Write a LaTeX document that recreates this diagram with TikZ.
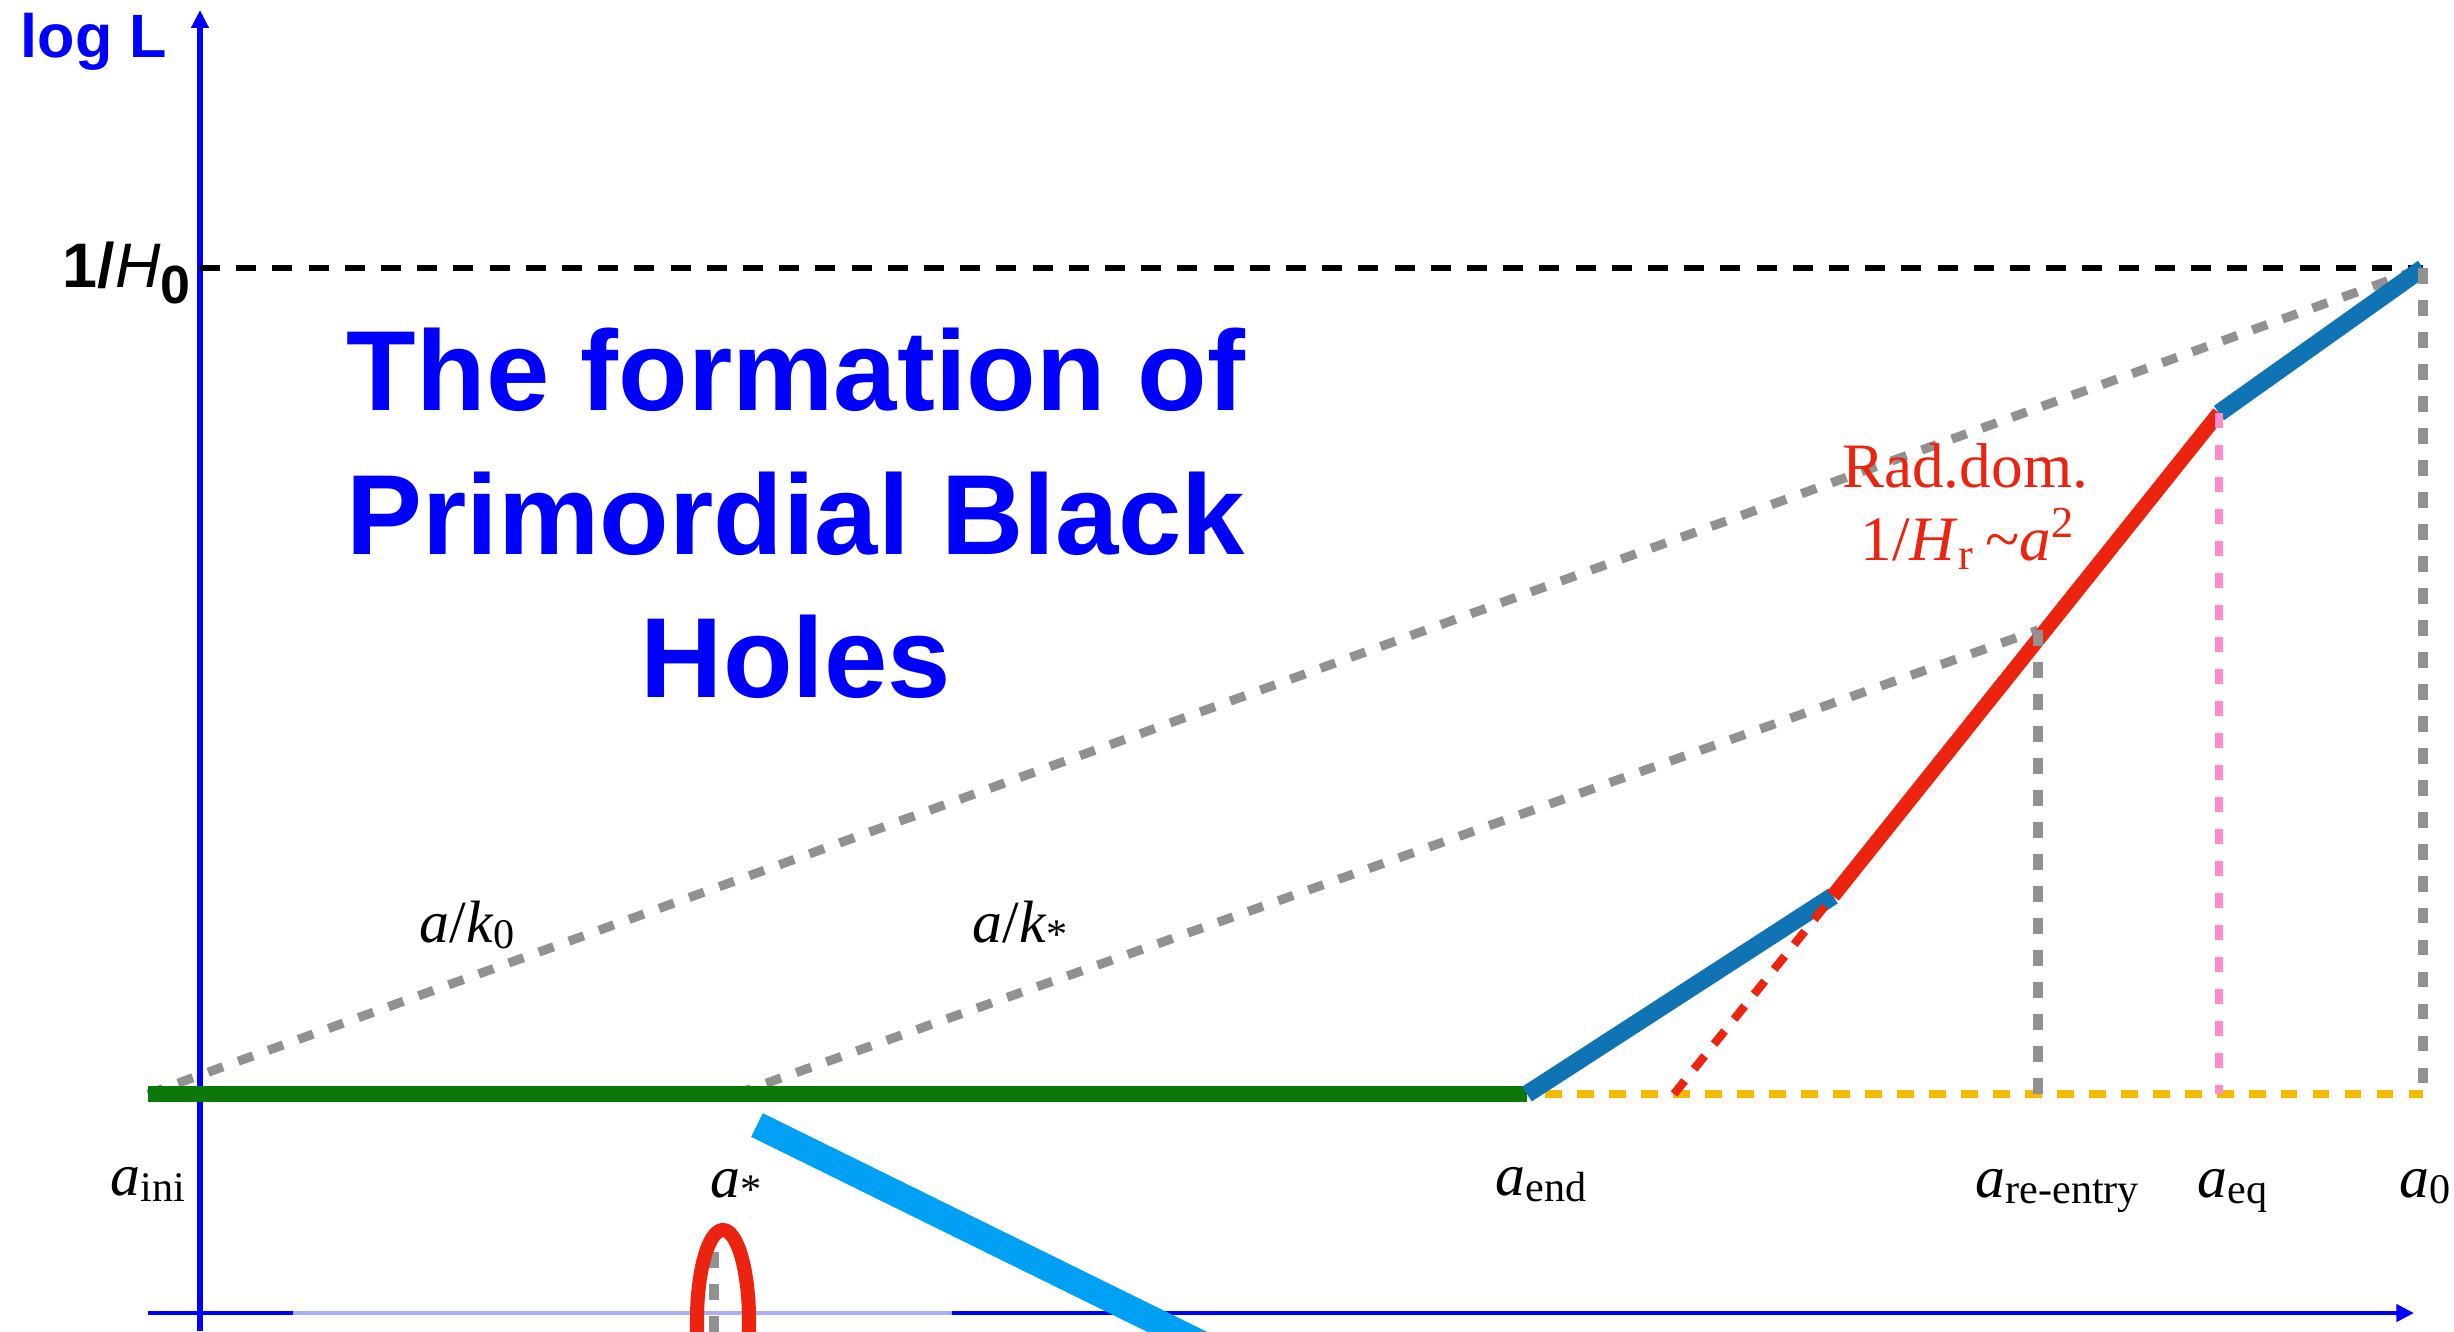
\documentclass[tikz,border=0pt]{standalone}
\usepackage{fontspec}
\setmainfont{Liberation Serif}
\setsansfont{Liberation Sans}
\usetikzlibrary{arrows.meta}

\definecolor{axisblue}{RGB}{0,0,255}
\definecolor{axislav}{RGB}{170,175,245}
\definecolor{hubgreen}{RGB}{10,120,10}
\definecolor{seablue}{RGB}{15,115,180}
\definecolor{radred}{RGB}{235,35,15}
\definecolor{skyblue}{RGB}{0,160,245}
\definecolor{eqpink}{RGB}{255,140,200}
\definecolor{dashgray}{RGB}{145,145,145}
\definecolor{amber}{RGB}{245,185,0}

% scale factor with its subscript
\newcommand{\asub}[1]{\textit{a}\raisebox{-1.7pt}{\fontsize{12pt}{12pt}\selectfont #1}}

\begin{document}
\begin{tikzpicture}[x=0.1mm, y=-0.1mm,
    axisline/.style={axisblue, line width=1.6pt},
    graydash/.style={dashgray, line width=2.6pt, dash pattern=on 4.5pt off 4.6pt},
    lab/.style={font=\fontsize{17pt}{20pt}\selectfont, inner sep=0pt, anchor=base west},
    titleline/.style={text=axisblue, font=\sffamily\bfseries\fontsize{32.4pt}{40pt}\selectfont, inner sep=0pt, anchor=base}]
    \useasboundingbox (0,0) rectangle (2454,1331);
    \clip (0,0) rectangle (2454,1331);

    % Axes
    \draw[axisline, -{Triangle[length=5.1pt, width=4.8pt]}] (200,1331) -- (200,10);
    \draw[axisline, line width=1.4pt, -{Triangle[length=5pt, width=4.8pt]}] (148,1313) -- (2414,1313);
    \draw[axislav, line width=1.4pt] (293,1313) -- (952,1313);
    \node[text=axisblue, font=\sffamily\bfseries\fontsize{17.4pt}{20pt}\selectfont, inner sep=0pt, anchor=base west] (logl) at (20,57) {log L};

    % Points on the curve
    \coordinate (ini) at (148,1094);
    \coordinate (star) at (736,1094);
    \coordinate (end) at (1527,1094);
    \coordinate (foot) at (1674,1094);
    \coordinate (reh) at (1833,896);
    \coordinate (reentry) at (2038,630);
    \coordinate (eq) at (2219,413);
    \coordinate (today) at (2423,268);

    % 1/H0 level
    \draw[black, line width=1.7pt, dash pattern=on 5.7pt off 4.6pt] (200,268) -- (today);
    \node[font=\sffamily\fontsize{17.9pt}{20pt}\selectfont, inner sep=0pt, anchor=base west] (hzero) at (62,287)
        {{\bfseries 1/}{\itshape H}\raisebox{-4.6pt}{\fontsize{15.3pt}{16pt}\selectfont\bfseries 0}};

    % Modes a/k
    \draw[graydash] (ini) -- (today);
    \draw[graydash] (star) -- (reentry);

    % Hubble radius
    \draw[hubgreen, line width=4.6pt] (ini) -- (end);
    \draw[amber, line width=2.4pt, dash pattern=on 4.8pt off 4.3pt] (1545,1094) -- (today |- end);
    \draw[seablue, line width=5pt] (end) -- (reh);
    \draw[radred, line width=4.2pt] (reh) -- (eq);
    \draw[seablue, line width=5pt] (eq) -- (today);
    \draw[radred, line width=2.4pt, dash pattern=on 4.8pt off 4.3pt] (foot) -- (reh);

    % Vertical markers
    \draw[graydash] (reentry) -- (reentry |- end);
    \draw[eqpink, line width=2.2pt, dash pattern=on 4.3pt off 4.8pt] (eq) -- (eq |- end);
    \draw[graydash] (today) -- (today |- end);

    % Peak and collapse
    \draw[skyblue, line width=7.5pt] (757,1125) -- (1210,1348);
    \draw[graydash] (714,1252) -- (714,1340);
    \draw[radred, line width=4pt] (697,1345) -- plot[domain=180:0, samples=40] ({723+26*cos(\x)}, {1320-90*sin(\x)}) -- (749,1345);

    % Labels
    \node[titleline] (title1) at (796,410) {The formation of};
    \node[titleline] (title2) at (796,554) {Primordial Black};
    \node[titleline] (title3) at (796,697) {Holes};
    \node[radred, font=\fontsize{18pt}{20pt}\selectfont, inner sep=0pt, anchor=base] (raddom) at (1965,487) {Rad.dom.};
    \node[radred, font=\fontsize{18pt}{20pt}\selectfont, inner sep=0pt, anchor=base] (hrad) at (1968,560)
        {1/\textit{H}\textsubscript{r}\,\textasciitilde\textit{a}\textsuperscript{2}};
    \node[lab] (kzero) at (419,942) {\textit{a}/\textit{k}\raisebox{-1.7pt}{\fontsize{12pt}{12pt}\selectfont 0}};
    \node[lab] (kstar) at (972,942) {\textit{a}/\textit{k}\raisebox{-1.7pt}{\fontsize{12pt}{12pt}\selectfont *}};
    \node[lab] (aini) at (110,1195) {\asub{ini}};
    \node[lab] (astar) at (710,1197) {\asub{*}};
    \node[lab] (aend) at (1495,1195) {\asub{end}};
    \node[lab] (are) at (1975,1197) {\asub{re-entry}};
    \node[lab] (aeq) at (2197,1197) {\asub{eq}};
    \node[lab] (azero) at (2399,1197) {\asub{0}};
\end{tikzpicture}
\end{document}
